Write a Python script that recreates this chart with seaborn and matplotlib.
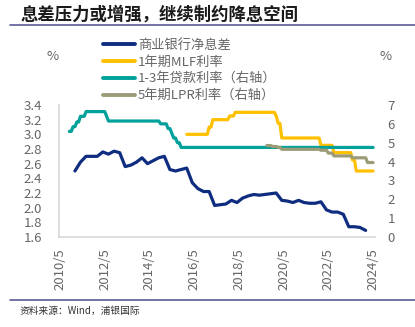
import matplotlib
matplotlib.use('Agg')
import matplotlib.pyplot as plt
from matplotlib.lines import Line2D
import seaborn as sns
import pandas as pd
import numpy as np

sns.set_theme(style='white')
plt.rcParams['font.family'] = ['Noto Sans CJK SC', 'DejaVu Sans']

# ---------------- data ----------------
title = '息差压力或增强，继续制约降息空间'
source = '资料来源：Wind，浦银国际'
series_names = ['商业银行净息差', '1年期MLF利率', '1-3年贷款利率（右轴）', '5年期LPR利率（右轴）']

# commercial bank net interest margin, quarterly 2010Q4 - 2023Q4 (%)
nim_values = [2.50,
              2.62, 2.70, 2.70, 2.70,
              2.76, 2.73, 2.77, 2.75,
              2.56, 2.58, 2.62, 2.68,
              2.60, 2.64, 2.68, 2.70,
              2.52, 2.50, 2.52, 2.54,
              2.34, 2.26, 2.22, 2.22,
              2.03, 2.04, 2.05, 2.10,
              2.07, 2.13, 2.16, 2.18,
              2.17, 2.18, 2.19, 2.20,
              2.10, 2.09, 2.07, 2.10,
              2.07, 2.06, 2.06, 2.08,
              1.97, 1.94, 1.94, 1.91,
              1.74, 1.74, 1.73, 1.69]
nim_start = '2010-12-31'

# 1-year MLF rate (left axis)
mlf_dates = ['2016-01', '2016-12', '2017-01', '2017-02', '2017-03', '2017-11', '2017-12',
             '2018-02', '2018-03', '2019-12', '2020-01', '2020-02', '2020-03', '2020-04',
             '2021-12', '2022-01', '2022-07', '2022-08', '2023-05', '2023-06', '2023-07',
             '2023-08', '2024-05']
mlf_values = [3.00, 3.00, 3.10, 3.10, 3.20, 3.20, 3.25,
              3.25, 3.30, 3.30, 3.25, 3.15, 3.15, 2.95,
              2.95, 2.85, 2.85, 2.75, 2.75, 2.65, 2.65,
              2.50, 2.50]

# 1-3 year benchmark loan rate (right axis)
loan_dates = ['2010-10', '2010-11', '2010-12', '2011-01', '2011-02', '2011-03', '2011-04',
              '2011-06', '2011-07', '2012-05', '2012-06', '2012-07', '2014-10', '2014-11',
              '2015-02', '2015-03', '2015-04', '2015-05', '2015-06', '2015-07', '2015-08',
              '2015-09', '2015-10', '2024-05']
loan_values = [5.60, 5.60, 5.85, 5.85, 6.10, 6.10, 6.40,
               6.40, 6.65, 6.65, 6.40, 6.15, 6.15, 6.00,
               6.00, 5.75, 5.75, 5.50, 5.25, 5.25, 5.00,
               5.00, 4.75, 4.75]

# 5-year LPR (right axis)
lpr_dates = ['2019-08', '2019-10', '2019-11', '2020-01', '2020-02', '2020-03', '2020-04',
             '2021-12', '2022-01', '2022-04', '2022-05', '2022-07', '2022-08', '2023-05',
             '2023-06', '2024-01', '2024-02', '2024-05']
lpr_values = [4.85, 4.85, 4.80, 4.80, 4.75, 4.75, 4.65,
              4.65, 4.60, 4.60, 4.45, 4.45, 4.30, 4.30,
              4.20, 4.20, 3.95, 3.95]

xtick_labels = ['2010/5', '2012/5', '2014/5', '2016/5', '2018/5', '2020/5', '2022/5', '2024/5']
left_ticks = [1.6, 1.8, 2.0, 2.2, 2.4, 2.6, 2.8, 3.0, 3.2, 3.4]
right_ticks = [0, 1, 2, 3, 4, 5, 6, 7]

colors = ['#0f2d80', '#ffc000', '#00a19a', '#9c9b78']

# ---------------- figure ----------------
W, H = 415, 327
fig = plt.figure(figsize=(W / 100, H / 100), dpi=100)
fig.patch.set_facecolor('white')

ax = fig.add_axes([59 / W, 1 - 237 / H, (375 - 59) / W, (237 - 105) / H])
ax2 = ax.twinx()

nim_df = pd.DataFrame({'date': pd.date_range(nim_start, periods=len(nim_values), freq='QE'),
                       'v': nim_values})
mlf_df = pd.DataFrame({'date': pd.to_datetime(mlf_dates), 'v': mlf_values})
loan_df = pd.DataFrame({'date': pd.to_datetime(loan_dates), 'v': loan_values})
lpr_df = pd.DataFrame({'date': pd.to_datetime(lpr_dates), 'v': lpr_values})

lw = 2.3
sns.lineplot(data=nim_df, x='date', y='v', ax=ax, color=colors[0], linewidth=lw, legend=False)
sns.lineplot(data=mlf_df, x='date', y='v', ax=ax, color=colors[1], linewidth=lw, legend=False)
sns.lineplot(data=loan_df, x='date', y='v', ax=ax2, color=colors[2], linewidth=lw, legend=False)
sns.lineplot(data=lpr_df, x='date', y='v', ax=ax2, color=colors[3], linewidth=lw, legend=False)

for a in (ax, ax2):
    a.set_xlabel('')
    a.set_ylabel('')
    for s in a.spines.values():
        s.set_visible(False)
ax.spines['left'].set_visible(True)
ax.spines['bottom'].set_visible(True)
ax.spines['left'].set_color('#d9d9d9')
ax.spines['bottom'].set_color('#d9d9d9')
ax.spines['bottom'].set_linewidth(1.2)

ax.set_ylim(1.6, 3.4)
ax.set_yticks(left_ticks)
ax.set_yticklabels([f'{t:.1f}' for t in left_ticks])
ax2.set_ylim(0, 7)
ax2.set_yticks(right_ticks)
ax2.set_yticklabels([str(t) for t in right_ticks])

ax.set_xlim(pd.Timestamp('2010-04-15'), pd.Timestamp('2024-06-01'))
xt = pd.to_datetime([l.replace('/', '-') + '-01' for l in xtick_labels])
ax.set_xticks(xt)
ax.set_xticklabels(xtick_labels, rotation=90)

tick_color = '#666666'
ax.tick_params(axis='y', colors=tick_color, labelsize=9.5, length=0, pad=12)
ax2.tick_params(axis='y', colors=tick_color, labelsize=9.5, length=0, pad=9)
ax.tick_params(axis='x', colors=tick_color, labelsize=9.5, length=0, pad=8)
ax.grid(False)
ax2.grid(False)

fig.text(53 / W, 1 - 57 / H, '%', ha='center', va='center', fontsize=9.5, color=tick_color)
fig.text(386 / W, 1 - 57 / H, '%', ha='center', va='center', fontsize=9.5, color=tick_color)

handles = [Line2D([0], [0], color=c, linewidth=2.8) for c in colors]
leg = fig.legend(handles, series_names, loc='upper left',
                 bbox_to_anchor=(103 / W, 1 - 39 / H), frameon=False,
                 fontsize=9.5, handlelength=2.4, handletextpad=0.25,
                 labelspacing=0.28, borderpad=0, borderaxespad=0)
for t in leg.get_texts():
    t.set_color(tick_color)

# title and decorations
fig.text(20 / W, 1 - 15 / H, title, ha='left', va='center', fontsize=12.5,
         fontweight='bold', color='#1a1a1a')
fig.add_artist(Line2D([10 / W, 1.0], [1 - 25 / H, 1 - 25 / H], color='#5c5a99', linewidth=1.2))
fig.add_artist(Line2D([10 / W, 1.0], [1 - 300 / H, 1 - 300 / H], color='#5c5a99', linewidth=1.2))
fig.text(20 / W, 1 - 311 / H, source, ha='left', va='center', fontsize=7, color='#333333')

fig.savefig('out.png', dpi=100, facecolor='white')
